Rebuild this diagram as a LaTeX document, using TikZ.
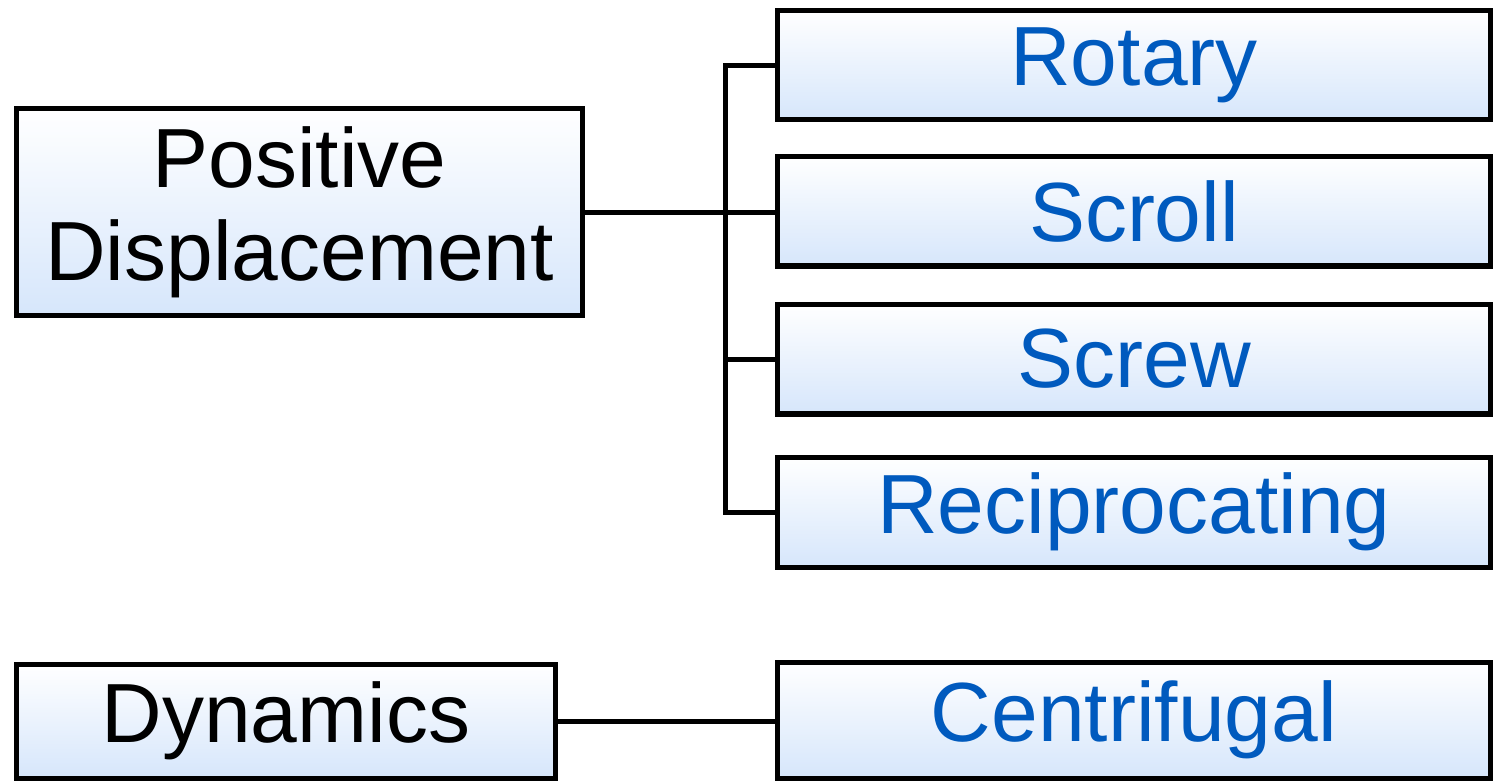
\documentclass[tikz,border=0pt]{standalone}
\usepackage{fontspec}
\setmainfont{Liberation Sans}
\usetikzlibrary{calc}
\definecolor{boxblue}{RGB}{214,230,251}
\definecolor{textblue}{RGB}{0,90,190}
\tikzstyle{group} = [rectangle, draw=black, line width=2.85pt, top color=white, bottom color=boxblue, align=center, inner sep=0pt, font=\fontsize{47.8}{52.9}\selectfont]
\tikzstyle{kind}  = [group, text=textblue, minimum width=14.28cm, minimum height=2.2cm]
\tikzstyle{link}  = [line width=2.85pt]

\begin{document}
\begin{tikzpicture}[x=0.02cm, y=-0.02cm]
  \useasboundingbox (0,0) rectangle (1493,782);
  % compressor families
  \node[group, minimum width=11.34cm, minimum height=4.14cm] (Positive) at (299.5,212) {Positive\\Displacement};
  \node[group, minimum width=10.8cm, minimum height=2.28cm] (Dynamics) at (286,721) {Dynamics};
  % compressor types
  \node[kind] (Rotary) at (1134,65) {Rotary};
  \node[kind] (Scroll) at (1134,211) {Scroll};
  \node[kind] (Screw) at (1134,359) {Screw};
  \node[kind] (Reciprocating) at (1134,512) {Reciprocating};
  \node[kind, minimum height=2.32cm] (Centrifugal) at (1134,720) {Centrifugal};
  % tree lines
  \coordinate (Trunk) at (725,300);
  \draw[link] (Positive.east) -- (Positive.east -| Scroll.west);
  \draw[link, line cap=rect] (Rotary.west -| Trunk) -- (Reciprocating.west -| Trunk);
  \foreach \kind in {Rotary, Screw, Reciprocating} {
      \draw[link] (\kind.west) -- (\kind.west -| Trunk);
  }
  \draw[link] (Dynamics.east) -- (Dynamics.east -| Centrifugal.west);
\end{tikzpicture}
\end{document}
